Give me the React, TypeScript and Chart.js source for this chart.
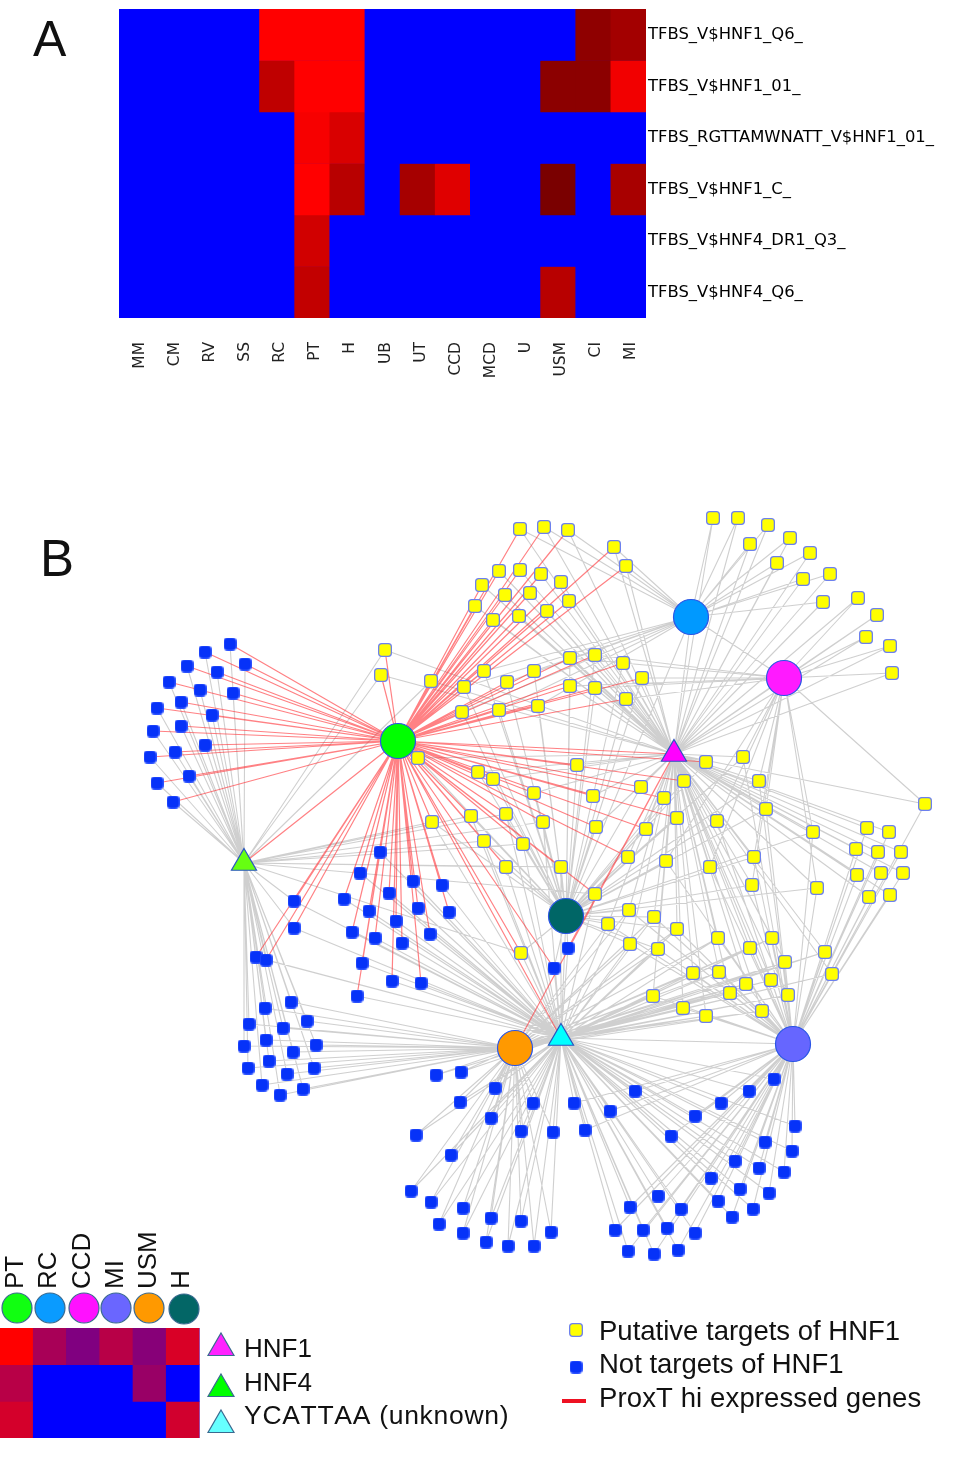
import React, { useEffect, useRef } from "react";
import { Chart, registerables } from "chart.js";

Chart.register(...registerables);

// ---------- Panel A ----------
const tissues = ["MM", "CM", "RV", "SS", "RC", "PT", "H", "UB", "UT", "CCD", "MCD", "U", "USM", "CI", "MI"];
const motifs = ["TFBS_V$HNF1_Q6_", "TFBS_V$HNF1_01_", "TFBS_RGTTAMWNATT_V$HNF1_01_", "TFBS_V$HNF1_C_", "TFBS_V$HNF4_DR1_Q3_", "TFBS_V$HNF4_Q6_"];
const rowQ6 = [0, 0, 0, 0, 1, 1, 1, 0, 0, 0, 0, 0, 0, 0.56, 0.64];
const row01 = [0, 0, 0, 0, 0.75, 1, 1, 0, 0, 0, 0, 0, 0.55, 0.55, 0.95];
const rowRG = [0, 0, 0, 0, 0, 0.97, 0.85, 0, 0, 0, 0, 0, 0, 0, 0];
const rowC = [0, 0, 0, 0, 0, 1, 0.72, 0, 0.65, 0.88, 0, 0, 0.48, 0, 0.66];
const rowDR1 = [0, 0, 0, 0, 0, 0.82, 0, 0, 0, 0, 0, 0, 0, 0, 0];
const rowQ6b = [0, 0, 0, 0, 0, 0.76, 0, 0, 0, 0, 0, 0, 0.72, 0, 0];

// ---------- Small heat map ----------
const subTissues = ["PT", "RC", "CCD", "MI", "USM", "H"];
const subHNF1 = [1, 0.66, 0.5, 0.72, 0.53, 0.85];
const subHNF4 = [0.72, 0, 0, 0, 0.6, 0];
const subYC = [0.83, 0, 0, 0, 0, 0.82];

// ---------- Network ----------
type P = [number, number];
const hPT: P = [398, 741], hRC: P = [691, 617], hCCD: P = [784, 678], hMI: P = [793, 1044], hUSM: P = [515, 1048], hH: P = [566, 916];
const tHNF1: P = [674, 754], tHNF4: P = [244, 863], tYC: P = [561, 1038];

const blueFanLeft: P[] = [[230,644],[205,652],[245,664],[187,666],[217,672],[169,682],[200,690],[233,693],[157,708],[181,702],[212,715],[153,731],[181,726],[150,757],[175,752],[205,745],[157,783],[189,776],[173,802]];
const blueFanBelow: P[] = [[380,852],[360,873],[413,881],[442,885],[344,899],[389,893],[418,908],[369,911],[449,912],[396,921],[352,932],[375,938],[402,943],[430,934],[362,963],[392,981],[421,983],[357,996]];
const blueMid: P[] = [[294,901],[294,928],[256,957],[266,960]];
const blueLowerLeft: P[] = [[291,1002],[265,1008],[307,1021],[249,1024],[283,1028],[266,1040],[316,1045],[244,1046],[293,1052],[269,1061],[248,1068],[314,1068],[287,1074],[262,1085],[303,1089],[280,1095]];
const blueBottomLeft: P[] = [[436,1075],[461,1072],[495,1088],[460,1102],[533,1103],[491,1118],[521,1131],[553,1132],[416,1135],[451,1155],[411,1191],[431,1202],[463,1208],[439,1224],[491,1218],[521,1221],[463,1233],[551,1232],[486,1242],[508,1246],[534,1246]];
const blueBottomRight: P[] = [[574,1103],[585,1130],[610,1111],[635,1091],[695,1116],[721,1103],[749,1091],[774,1079],[795,1126],[671,1136],[765,1142],[792,1151],[735,1161],[759,1168],[784,1172],[711,1178],[740,1189],[769,1193],[718,1201],[658,1196],[753,1209],[732,1217],[630,1207],[681,1209],[615,1230],[643,1230],[667,1228],[695,1233],[628,1251],[654,1254],[678,1250]];
const blueNearH: P[] = [[568,948],[554,968]];

const yellowTopA: P[] = [[520,529],[544,527],[568,530],[614,547],[626,566]];
const yellowTopB: P[] = [[499,571],[520,570],[541,574],[561,582],[482,585],[505,595],[530,593],[475,606],[569,601],[547,611],[519,616],[493,620]];
const yellowPair: P[] = [[385,650],[381,675],[431,681]];
const yellowMidWest: P[] = [[484,671],[534,671],[507,682],[464,687],[462,712],[499,710],[538,706]];
const yellowMidEast: P[] = [[570,658],[595,655],[623,663],[642,678],[570,686],[595,688],[626,699]];
const yellowTopRightA: P[] = [[713,518],[738,518],[768,525],[750,544],[790,538],[810,553],[777,563],[830,574],[803,579],[823,602]];
const yellowTopRightB: P[] = [[858,598],[877,615],[866,637],[890,646],[892,673]];
const yellowFar: P[] = [[925,804]];
const yellowCentreUpper: P[] = [[418,758],[478,772],[493,779],[534,793],[577,765],[593,796],[641,787],[664,798],[677,818],[646,829],[628,857],[596,827],[684,781],[706,762]];
const yellowCentreLower: P[] = [[471,816],[506,814],[543,822],[432,822],[484,841],[523,844],[506,867],[561,867],[595,894],[521,953]];
const yellowEast: P[] = [[743,757],[759,781],[766,809],[666,861],[710,867],[754,857],[752,885],[717,821],[813,832],[817,888]];
const yellowCluster: P[] = [[867,828],[889,832],[856,849],[878,852],[901,852],[857,875],[881,873],[903,873],[869,897],[890,895]];
const yellowBelowH: P[] = [[629,910],[654,917],[677,929],[608,924],[630,944],[658,949]];
const yellowSouth: P[] = [[718,938],[772,938],[750,948],[825,952],[785,962],[832,974],[693,973],[719,972],[771,980],[746,984],[730,993],[788,995],[683,1008],[706,1016],[762,1011],[653,996]];

const redLinks: [P[], P][] = [
  [blueFanLeft, hPT], [blueFanBelow, hPT], [blueMid, hPT], [[blueNearH[1]], hPT], [[blueNearH[0]], tHNF1],
  [yellowTopA, hPT], [yellowTopB, hPT], [yellowPair, hPT], [yellowMidWest, hPT], [yellowMidEast, hPT],
  [yellowCentreUpper, hPT], [yellowCentreLower, hPT],
  [[tHNF1], hPT], [[tHNF4], hPT], [[tYC], hPT], [[hUSM], tHNF1],
];
const greyLinks: [P[], P][] = [
  [blueFanLeft, tHNF4], [blueMid, tHNF4], [blueMid, tYC], [blueLowerLeft, tHNF4], [blueLowerLeft, hUSM],
  [blueFanBelow, tYC], [blueBottomLeft, hUSM], [blueBottomLeft, tYC], [blueBottomRight, tYC], [blueBottomRight, hMI],
  [blueNearH, hH], [blueNearH, tYC],
  [yellowTopA, hRC], [yellowTopA, tHNF1], [yellowTopB, tHNF1], [yellowPair, tHNF4], [yellowPair, tHNF1],
  [yellowMidWest, hH], [yellowMidWest, hRC], [yellowMidEast, hH], [yellowMidEast, tHNF1], [yellowMidEast, hCCD],
  [yellowTopRightA, hRC], [yellowTopRightA, tHNF1], [yellowTopRightB, hCCD], [yellowTopRightB, tHNF1],
  [yellowFar, hCCD], [yellowFar, tHNF1], [yellowFar, hMI],
  [yellowCentreUpper, hH], [yellowCentreUpper, tHNF1], [yellowCentreLower, hH], [yellowCentreLower, tYC], [yellowCentreLower, tHNF4],
  [yellowEast, tHNF1], [yellowEast, hMI], [yellowEast, hH], [yellowEast, hCCD],
  [yellowCluster, tHNF1], [yellowCluster, hMI],
  [yellowBelowH, hH], [yellowBelowH, hMI], [yellowBelowH, tHNF1], [yellowBelowH, tYC], [yellowBelowH, hUSM],
  [yellowSouth, hMI], [yellowSouth, tHNF1], [yellowSouth, tYC], [yellowSouth, hUSM],
  [[hCCD], hRC], [[hRC], tHNF1], [[hCCD], tHNF1], [[hRC], hH], [[hMI], tHNF1], [[hH], tYC], [[hMI], tYC], [[hUSM], tYC],
];

const hubPoints = [hPT, hRC, hCCD, hMI, hUSM, hH];
const hubColors = ["#00ff00", "#0099ff", "#ff1aff", "#6666ff", "#ff9900", "#006666"];
const triPoints = [tHNF1, tHNF4, tYC];
const triColors = ["#ff00ff", "#66ff11", "#00ffff"];
const keyCircles: P[] = [[17, 1308], [50, 1308], [84, 1308], [116, 1308], [149, 1308], [184, 1309]];
const keyCircleColors = ["#11ff11", "#0a9bff", "#ff11ff", "#6a66ff", "#ff9900", "#036666"];
const keyTriangles: P[] = [[221, 1348], [221, 1389], [221, 1425]];
const keyTriangleColors = ["#ff22ff", "#00ff00", "#66ffff"];
const keyYellow: P[] = [[576, 1330]];
const keyBlue: P[] = [[576, 1367]];
const keyRedLine: P[] = [[562, 1401], [586, 1401]];

const labels: { t: string; x: number; base: number; size: number; sp: number }[] = [
  { t: "A", x: 33, base: 56, size: 50, sp: 0 },
  { t: "B", x: 40, base: 577, size: 51, sp: 0 },
  { t: "HNF1", x: 244, base: 1357, size: 26, sp: 0 },
  { t: "HNF4", x: 244, base: 1391, size: 26, sp: 0 },
  { t: "YCATTAA (unknown)", x: 244, base: 1424, size: 26.5, sp: 0.7 },
  { t: "Putative targets of HNF1", x: 599, base: 1341, size: 27.5, sp: 0 },
  { t: "Not targets of HNF1", x: 599, base: 1374, size: 27.5, sp: 0 },
  { t: "ProxT hi expressed genes", x: 599, base: 1408, size: 27.5, sp: 0.12 },
];

const xy = (ps: P[]) => ps.map(([x, y]) => ({ x, y }));
function segments(links: [P[], P][]) {
  const out: { x: number; y: number }[] = [];
  for (const [nodes, hub] of links) {
    for (const [x, y] of nodes) {
      out.push({ x, y }, { x: hub[0], y: hub[1] }, { x: NaN, y: NaN });
    }
  }
  return out;
}

function squareSprite(fill: string, stroke: string, size: number, lw: number) {
  const c = document.createElement("canvas");
  c.width = size;
  c.height = size;
  const ctx = c.getContext("2d")!;
  ctx.beginPath();
  ctx.roundRect(lw / 2, lw / 2, size - lw, size - lw, 3);
  ctx.fillStyle = fill;
  ctx.fill();
  ctx.lineWidth = lw;
  ctx.strokeStyle = stroke;
  ctx.stroke();
  return c;
}

const backdrop = {
  id: "backdrop",
  beforeDatasetsDraw(c: any) {
    const { left, top, width, height } = c.chartArea;
    c.ctx.fillStyle = "#0000ff";
    c.ctx.fillRect(left, top, width, height);
  },
};

const noPad = (s: any) => {
  s.paddingLeft = 0;
  s.paddingRight = 0;
  s.paddingTop = 0;
  s.paddingBottom = 0;
};

function heatChart(
  canvas: HTMLCanvasElement,
  cols: string[],
  rows: number[][],
  rowLabels: string[] | null,
  color: (v: number) => string,
  g: { left: number; right: number; top: number; bottom: number; xH: number; yW: number; pos: "top" | "bottom"; pad: number; shift: number; font: any; color: string }
) {
  const n = rows.length;
  return new Chart(canvas, {
    type: "bar",
    data: {
      labels: cols,
      datasets: rows.map((r, i) => ({
        label: rowLabels ? rowLabels[i] : String(i),
        data: r.map(() => 1),
        backgroundColor: r.map((v) => color(v)),
        borderWidth: 0,
        barPercentage: 1,
        categoryPercentage: 1,
      })),
    },
    options: {
      responsive: false,
      animation: false,
      layout: { autoPadding: false, padding: { left: g.left, right: g.right, top: g.top, bottom: g.bottom } },
      plugins: { legend: { display: false }, tooltip: { enabled: false } },
      scales: {
        x: {
          stacked: true,
          position: g.pos,
          grid: { display: false, drawTicks: false },
          border: { display: false },
          afterFit: (s: any) => { s.height = g.xH; noPad(s); },
          ticks: { autoSkip: false, minRotation: 90, maxRotation: 90, padding: g.pad, labelOffset: g.shift, font: g.font, color: g.color },
        },
        y: {
          stacked: true,
          display: !!rowLabels,
          position: "right",
          reverse: true,
          min: 0,
          max: n,
          grid: { display: false, drawTicks: false },
          border: { display: false },
          afterFit: (s: any) => { if (rowLabels) s.width = g.yW; noPad(s); },
          afterBuildTicks: (s: any) => { s.ticks = Array.from({ length: n }, (_, i) => ({ value: i + 0.5 })); },
          ticks: {
            padding: 2,
            font: { family: "DejaVu Sans", size: 16.4 },
            color: "#000",
            callback: (v: any) => (rowLabels ? rowLabels[Math.floor(Number(v))] : ""),
          },
        },
      },
    } as any,
    plugins: [backdrop],
  } as any);
}

function networkChart(canvas: HTMLCanvasElement) {
  const node = (label: string, pts: P[], style: any, radius: number, bg: any, border: any, bw = 1) => ({
    label,
    data: xy(pts),
    showLine: false,
    pointStyle: style,
    pointRadius: radius,
    pointBackgroundColor: bg,
    pointBorderColor: border,
    pointBorderWidth: bw,
  });
  const yellowAll = [yellowTopA, yellowTopB, yellowPair, yellowMidWest, yellowMidEast, yellowTopRightA, yellowTopRightB, yellowFar, yellowCentreUpper, yellowCentreLower, yellowEast, yellowCluster, yellowBelowH, yellowSouth].flat();
  const blueAll = [blueFanLeft, blueFanBelow, blueMid, blueLowerLeft, blueBottomLeft, blueBottomRight, blueNearH].flat();
  return new Chart(canvas, {
    type: "scatter",
    data: {
      datasets: [
        node("hubs", hubPoints, "circle", 17.5, hubColors, "#2a55e6", 1.2),
        node("motifs", triPoints, "triangle", 14.5, triColors, "#2a55c0", 1.2),
        node("keyCircles", keyCircles, "circle", 15, keyCircleColors, "#3a6a90", 1.2),
        node("keyTriangles", keyTriangles, "triangle", 15, keyTriangleColors, "#3a6a90", 1.2),
        node("targets", [...yellowAll, ...keyYellow], squareSprite("#ffff00", "#6c80ee", 14, 1.3), 7, "#ffff00", "#6c80ee", 1.3),
        node("nonTargets", [...blueAll, ...keyBlue], squareSprite("#0632f8", "#2a50ff", 13, 1), 7, "#0632f8", "#2a50ff", 1),
        {
          label: "keyRedLine",
          data: xy(keyRedLine),
          showLine: true,
          borderColor: "#ee1122",
          borderWidth: 4,
          pointRadius: 0,
        },
        {
          label: "redEdges",
          data: segments(redLinks),
          showLine: true,
          spanGaps: false,
          borderColor: "rgba(255,45,50,0.6)",
          borderWidth: 1.2,
          pointRadius: 0,
        },
        {
          label: "greyEdges",
          data: segments(greyLinks),
          showLine: true,
          spanGaps: false,
          borderColor: "rgba(130,130,130,0.38)",
          borderWidth: 1.1,
          pointRadius: 0,
        },
      ],
    },
    options: {
      responsive: false,
      animation: false,
      layout: { autoPadding: false, padding: 0 },
      plugins: { legend: { display: false }, tooltip: { enabled: false } },
      scales: {
        x: { display: false, type: "linear", min: 0, max: 968 },
        y: { display: false, type: "linear", min: 0, max: 1461, reverse: true },
      },
    } as any,
  } as any);
}

export default function App() {
  const a = useRef<HTMLCanvasElement>(null);
  const s = useRef<HTMLCanvasElement>(null);
  const n = useRef<HTMLCanvasElement>(null);
  useEffect(() => {
    const red = (v: number) => (v === 0 ? "#0000ff" : `rgb(${Math.round(v * 255)},0,0)`);
    const mix = (v: number) => `rgb(${Math.round(v * 255)},0,${Math.round((1 - v) * 255)})`;
    const c1 = heatChart(a.current!, tissues, [rowQ6, row01, rowRG, rowC, rowDR1, rowQ6b], motifs, red, {
      left: 119, right: 0, top: 9, bottom: 0, xH: 102, yW: 322, pos: "bottom", pad: 24, shift: 3,
      font: { family: "DejaVu Sans", size: 15.5 }, color: "#222",
    });
    const c2 = heatChart(s.current!, subTissues, [subHNF1, subHNF4, subYC], null, mix, {
      left: 0, right: 20.5, top: 0, bottom: 2, xH: 108, yW: 0, pos: "top", pad: 39, shift: 30.5,
      font: { family: "Liberation Sans", size: 26 }, color: "#111",
    });
    const c3 = networkChart(n.current!);
    return () => { c1.destroy(); c2.destroy(); c3.destroy(); };
  }, []);
  const abs: React.CSSProperties = { position: "absolute", display: "block" };
  return (
    <div style={{ position: "absolute", left: 0, top: 0, width: 968, height: 1461, background: "#fff", overflow: "hidden" }}>
      <canvas ref={a} width={968} height={420} style={{ ...abs, left: 0, top: 0 }} />
      <canvas ref={s} width={220} height={220} style={{ ...abs, left: 0, top: 1220 }} />
      <canvas ref={n} width={968} height={1461} style={{ ...abs, left: 0, top: 0 }} />
      {labels.map((l) => (
        <div key={l.t} style={{ position: "absolute", left: l.x, top: l.base - 0.3465 * l.size, lineHeight: 0, fontFamily: "'Liberation Sans', Arial, sans-serif", fontSize: l.size, letterSpacing: l.sp, fontKerning: "none", color: "#111", whiteSpace: "nowrap" }}>
          {l.t}
        </div>
      ))}
    </div>
  );
}
